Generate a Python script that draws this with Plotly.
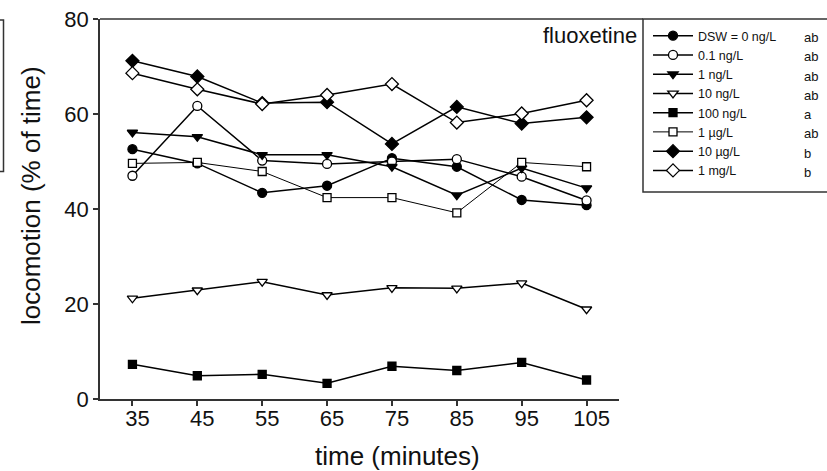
import plotly.graph_objects as go

time_min = [35, 45, 55, 65, 75, 85, 95, 105]

series_names = ["DSW = 0 ng/L", "0.1 ng/L", "1 ng/L", "10 ng/L", "100 ng/L", "1 µg/L", "10 µg/L", "1 mg/L"]
sig_letters = ["ab", "ab", "ab", "ab", "a", "ab", "b", "b"]

dsw_0 = [52.6, 49.6, 43.4, 44.9, 50.7, 48.9, 41.9, 40.8]
ng_0_1 = [47.0, 61.7, 50.2, 49.5, 50.0, 50.5, 46.8, 41.8]
ng_1 = [56.1, 55.2, 51.4, 51.4, 48.9, 42.9, 48.6, 44.4]
ng_10 = [21.2, 22.9, 24.7, 21.9, 23.4, 23.3, 24.4, 18.9]
ng_100 = [7.3, 4.9, 5.2, 3.3, 6.9, 6.0, 7.7, 4.0]
ug_1 = [49.6, 49.8, 47.9, 42.4, 42.4, 39.2, 49.8, 48.9]
ug_10 = [71.2, 67.9, 62.3, 62.5, 53.7, 61.5, 58.0, 59.3]
mg_1 = [68.6, 65.2, 62.1, 64.0, 66.3, 58.2, 60.1, 62.9]

values = [dsw_0, ng_0_1, ng_1, ng_10, ng_100, ug_1, ug_10, mg_1]
symbols = ["circle", "circle-open", "triangle-down", "triangle-down-open",
           "square", "square-open", "diamond", "diamond-open"]
sizes = [9, 9, 9, 9, 8, 8, 10, 10]
widths = [1.5, 1.5, 1.5, 1.5, 1.5, 1.0, 1.5, 1.5]

L, R, T, B = 100, 208, 19, 72
W, H = 827, 471
PW, PH = W - L - R, H - T - B

def px_x(p):
    return (p - L) / PW

def px_y(p):
    return (H - B - p) / PH

fig = go.Figure()
for name, vals, sym, sz, lw in zip(series_names, values, symbols, sizes, widths):
    filled = not sym.endswith("-open")
    base = sym.replace("-open", "")
    fig.add_trace(go.Scatter(
        x=time_min, y=vals, name=name, mode="lines+markers",
        line=dict(color="black", width=lw),
        marker=dict(symbol=base, size=sz,
                    color="black" if filled else "white",
                    line=dict(color="black", width=1.3)),
    ))

axis_common = dict(showline=True, linecolor="#333", linewidth=1.5, ticks="outside",
                   ticklen=5, tickwidth=1.5, tickcolor="#333", showgrid=False, zeroline=False,
                   automargin=False,
                   tickfont=dict(family="Liberation Sans, Arial", size=22, color="#111"))

fig.update_xaxes(range=[30, 110], tickvals=time_min, ticklabelshift=5, ticklabelstandoff=-6, **axis_common)
fig.update_yaxes(range=[0, 80], tickvals=[0, 20, 40, 60, 80], **axis_common)

annotations = [
    dict(text="locomotion (% of time)", x=px_x(31), y=px_y(196), xref="paper", yref="paper",
         textangle=-90, showarrow=False, font=dict(size=26, color="#111"), xanchor="center", yanchor="middle"),
    dict(text="time (minutes)", x=px_x(397.5), y=px_y(456), xref="paper", yref="paper",
         showarrow=False, font=dict(size=26, color="#111"), xanchor="center", yanchor="middle"),
    dict(text="fluoxetine", x=px_x(639), y=px_y(35), xref="paper", yref="paper",
         showarrow=False, font=dict(size=22, color="#111"), xanchor="right", yanchor="middle"),
]
row0, rowgap = 37.5, 19.25
for i, letter in enumerate(sig_letters):
    annotations.append(dict(text=letter, x=px_x(802), y=px_y(row0 + i * rowgap), xref="paper", yref="paper",
                            showarrow=False, font=dict(size=13, color="#111"), xanchor="left", yanchor="middle"))

shapes = [
    dict(type="line", xref="paper", yref="paper", x0=0, x1=px_x(643), y0=1, y1=1,
         line=dict(color="#333", width=1.5)),
    dict(type="rect", xref="paper", yref="paper", x0=px_x(643), x1=px_x(840), y0=px_y(192), y1=1,
         line=dict(color="#333", width=1.5)),
    dict(type="rect", xref="paper", yref="paper", x0=px_x(-20), x1=px_x(3.5), y0=px_y(171.5), y1=px_y(20),
         line=dict(color="#333", width=1.5)),
]

fig.update_layout(
    width=W, height=H, margin=dict(l=L, r=R, t=T, b=B),
    paper_bgcolor="white", plot_bgcolor="white",
    font=dict(family="Liberation Sans, Arial", color="#111"),
    showlegend=True,
    legend=dict(x=px_x(648), y=px_y(21), xanchor="left", yanchor="top", bgcolor="rgba(0,0,0,0)",
                borderwidth=0, font=dict(size=12.5, color="#111"), itemwidth=40),
    annotations=annotations, shapes=shapes,
)

fig.write_html("out.html", config={"displayModeBar": False},
               post_script="document.body.style.margin='0';document.body.style.overflow='hidden';")
